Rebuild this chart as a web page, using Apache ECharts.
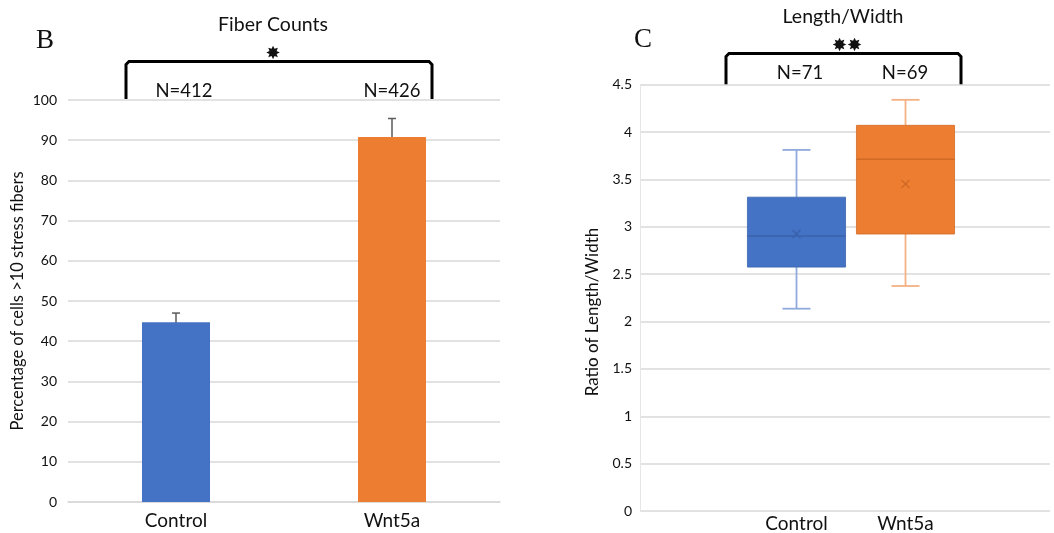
<!DOCTYPE html>
<html>
<head>
<meta charset="utf-8">
<script src="https://cdn.jsdelivr.net/npm/echarts@6/dist/echarts.min.js"></script>
<style>
  html, body { margin: 0; padding: 0; background: #fff; }
  #chart { width: 1054px; height: 533px; }
</style>
</head>
<body>
<div id="chart"></div>
<script>
// panel B: fiber counts
const groups = ['Control', 'Wnt5a']
const fiberPct = [44.7, 90.8]
const fiberErr = [2.3, 4.6]
const fiberTicks = [0, 100, 10]

// panel C: length / width box plots  [min, q1, median, q3, max, mean]
const ratioBoxes = [
  [2.13, 2.57, 2.90, 3.31, 3.81, 2.92],
  [2.37, 2.92, 3.71, 4.07, 4.34, 3.45]
]
const ratioTicks = [0, 4.5, 0.5]

const fills = ['#4472C4', '#ED7D31']
const whiskerColors = ['#8FAADC', '#F4B183']
const medianColors = ['#3A63AD', '#D06A26']

const font = 'Lato, "Open Sans", sans-serif'
const gridColor = '#D9D9D9'

const chart = echarts.init(document.getElementById('chart'), null, { renderer: 'canvas' })

function bracket(x1, x2, yTop, yBot) {
  return {
    type: 'polyline',
    shape: { points: [[x1, yBot], [x1, yTop + 3], [x1 + 3, yTop], [x2 - 3, yTop], [x2, yTop + 3], [x2, yBot]] },
    style: { stroke: '#000', lineWidth: 3, fill: null }
  }
}

function label(text, x, y, size, family, rotation) {
  return {
    type: 'text',
    x: x,
    y: y,
    rotation: rotation || 0,
    style: {
      text: text,
      font: size + 'px ' + (family || font),
      fill: '#111',
      align: 'center',
      verticalAlign: 'middle'
    }
  }
}

chart.setOption({
  backgroundColor: '#fff',
  animation: false,
  grid: [
    { left: 68, top: 100, width: 432, height: 402 },
    { left: 640, top: 84.7, right: 4, height: 426.3 },
    { left: 742, top: 84.7, width: 218, height: 426.3 }
  ],
  xAxis: [
    {
      type: 'category',
      gridIndex: 0,
      data: groups,
      axisLine: { lineStyle: { color: gridColor, width: 1.5 } },
      axisTick: { show: false },
      axisLabel: { color: '#111', fontSize: 19, fontFamily: font, margin: 9 }
    },
    {
      type: 'value',
      gridIndex: 1,
      show: false
    },
    {
      type: 'category',
      gridIndex: 2,
      data: groups,
      axisLine: { show: false },
      axisTick: { show: false },
      axisLabel: { color: '#111', fontSize: 19, fontFamily: font, margin: 4 }
    }
  ],
  yAxis: [
    {
      type: 'value',
      gridIndex: 0,
      min: fiberTicks[0],
      max: fiberTicks[1],
      interval: fiberTicks[2],
      name: 'Percentage of cells >10 stress fibers',
      nameLocation: 'middle',
      nameGap: 42,
      nameTextStyle: { color: '#111', fontSize: 16.5, fontFamily: font },
      axisLine: { show: false },
      axisTick: { show: false },
      axisLabel: { color: '#111', fontSize: 14, fontFamily: font, margin: 11 },
      splitLine: { lineStyle: { color: gridColor, width: 1.5 } }
    },
    {
      type: 'value',
      gridIndex: 1,
      min: ratioTicks[0],
      max: ratioTicks[1],
      interval: ratioTicks[2],
      axisLine: { show: true, lineStyle: { color: '#E6E6E6', width: 1 } },
      axisTick: { show: false },
      axisLabel: { color: '#111', fontSize: 14, fontFamily: font, margin: 8 },
      splitLine: { lineStyle: { color: gridColor, width: 1.5 } }
    },
    {
      type: 'value',
      gridIndex: 2,
      min: ratioTicks[0],
      max: ratioTicks[1],
      interval: ratioTicks[2],
      show: false
    }
  ],
  series: [
    {
      type: 'bar',
      xAxisIndex: 0,
      yAxisIndex: 0,
      barWidth: 68,
      data: fiberPct.map((v, i) => ({ value: v, itemStyle: { color: fills[i] } }))
    },
    {
      type: 'custom',
      xAxisIndex: 0,
      yAxisIndex: 0,
      data: fiberPct.map((v, i) => [i, v - fiberErr[i], v + fiberErr[i]]),
      renderItem(params, api) {
        const lo = api.coord([api.value(0), api.value(1)])
        const hi = api.coord([api.value(0), api.value(2)])
        const s = { stroke: '#5A5A5A', lineWidth: 1.5 }
        return {
          type: 'group',
          children: [
            { type: 'line', shape: { x1: lo[0], y1: lo[1], x2: hi[0], y2: hi[1] }, style: s },
            { type: 'line', shape: { x1: lo[0] - 4, y1: lo[1], x2: lo[0] + 4, y2: lo[1] }, style: s },
            { type: 'line', shape: { x1: hi[0] - 4, y1: hi[1], x2: hi[0] + 4, y2: hi[1] }, style: s }
          ]
        }
      }
    },
    {
      type: 'custom',
      xAxisIndex: 2,
      yAxisIndex: 2,
      data: ratioBoxes.map((b, i) => [i].concat(b)),
      renderItem(params, api) {
        const i = params.dataIndex
        const x = api.value(0)
        const band = api.size([1, 0])[0]
        const half = band * 0.45
        const cap = 14
        const p = k => api.coord([x, api.value(k)])
        const min = p(1), q1 = p(2), med = p(3), q3 = p(4), max = p(5), mean = p(6)
        const cx = min[0]
        const ws = { stroke: whiskerColors[i], lineWidth: 1.8 }
        const ms = { stroke: medianColors[i], lineWidth: 1.5 }
        return {
          type: 'group',
          children: [
            { type: 'line', shape: { x1: cx, y1: max[1], x2: cx, y2: q3[1] }, style: ws },
            { type: 'line', shape: { x1: cx, y1: q1[1], x2: cx, y2: min[1] }, style: ws },
            { type: 'line', shape: { x1: cx - cap, y1: max[1], x2: cx + cap, y2: max[1] }, style: ws },
            { type: 'line', shape: { x1: cx - cap, y1: min[1], x2: cx + cap, y2: min[1] }, style: ws },
            {
              type: 'rect',
              shape: { x: cx - half, y: q3[1], width: half * 2, height: q1[1] - q3[1] },
              style: { fill: fills[i], stroke: medianColors[i], lineWidth: 0.8 }
            },
            { type: 'line', shape: { x1: cx - half, y1: med[1], x2: cx + half, y2: med[1] }, style: ms },
            { type: 'line', shape: { x1: cx - 4, y1: mean[1] - 4, x2: cx + 4, y2: mean[1] + 4 }, style: ms },
            { type: 'line', shape: { x1: cx - 4, y1: mean[1] + 4, x2: cx + 4, y2: mean[1] - 4 }, style: ms }
          ]
        }
      }
    }
  ],
  graphic: [
    label('B', 45, 41, 27, '"Liberation Serif", "DejaVu Serif", serif'),
    label('Fiber Counts', 273, 25, 19.5),
    bracket(126, 432, 61.5, 99),
    label('\u2738', 273, 54, 18, '"DejaVu Sans", sans-serif'),
    label('N=412', 184, 91, 18.5),
    label('N=426', 392, 91, 18.5),

    label('C', 643, 40, 27, '"Liberation Serif", "DejaVu Serif", serif'),
    label('Length/Width', 843, 17, 19.5),
    bracket(726, 961, 53.5, 85),
    label('\u2738\u2738', 847, 46, 18, '"DejaVu Sans", sans-serif'),
    label('N=71', 800, 73, 18.5),
    label('N=69', 905, 73, 18.5),
    label('Ratio of Length/Width', 593, 312, 17, null, Math.PI / 2)
  ]
})
</script>
</body>
</html>
